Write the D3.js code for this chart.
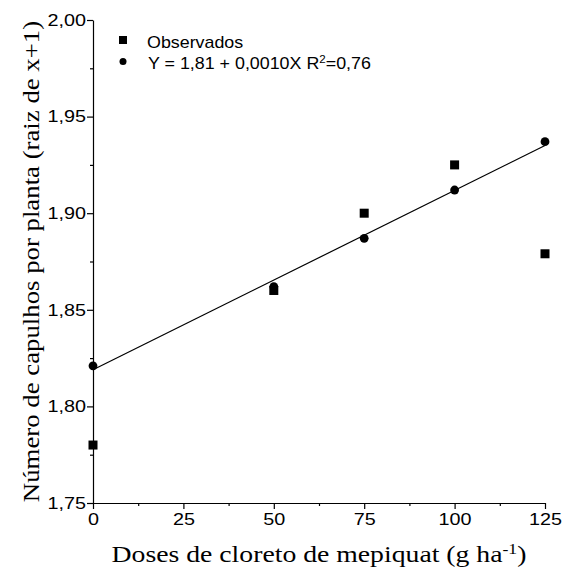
<!DOCTYPE html>
<html>
<head>
<meta charset="utf-8">
<script src="https://cdn.jsdelivr.net/npm/d3@7"></script>
<style>
  body { margin: 0; background: #fff; }
  svg { display: block; }
  .tick text { font-family: "Liberation Sans", Arial, sans-serif; font-size: 16.5px; fill: #000; }
  .title { font-family: "Liberation Serif", "Times New Roman", serif; font-size: 23.5px; fill: #000; }
  .leg { font-family: "Liberation Sans", Arial, sans-serif; font-size: 17px; fill: #000; }
</style>
</head>
<body>
<script>
// doses (g/ha)
var doses = [0, 50, 75, 100, 125];
// observed values
var observados = [1.780, 1.860, 1.900, 1.925, 1.879];
// fitted values
var estimados = [1.821, 1.862, 1.887, 1.912, 1.937];
// regression line ends
var retaX = [0, 125];
var retaY = [1.819, 1.935];

var xTicks = [0, 25, 50, 75, 100, 125];
var yTicks = [1.75, 1.80, 1.85, 1.90, 1.95, 2.00];

var W = 562, H = 569;
var margin = {top: 20, right: 17, bottom: 66, left: 93};
var stretch = 1.2; // the text in the original is wide

var svg = d3.select("body").append("svg")
    .attr("width", W)
    .attr("height", H);

var x = d3.scaleLinear().domain([0, 125]).range([margin.left, W - margin.right]);
var y = d3.scaleLinear().domain([1.75, 2.00]).range([H - margin.bottom, margin.top]);

var fmt = function (d) { return d3.format(".2f")(d).replace(".", ","); };

function widen(sel, s) {
    sel.each(function () {
        var t = d3.select(this);
        var tx = +t.attr("x") || 0;
        t.attr("x", 0).attr("transform", "translate(" + tx + ",0) scale(" + s + ",1)");
    });
}

// minor ticks
svg.append("g")
    .attr("transform", "translate(0," + y(1.75) + ")")
    .call(d3.axisBottom(x).tickValues(d3.range(12.5, 125, 25)).tickSize(3).tickFormat(""))
    .call(g => g.select(".domain").remove());
svg.append("g")
    .attr("transform", "translate(" + x(0) + ",0)")
    .call(d3.axisLeft(y).tickValues(d3.range(1.775, 2.0, 0.05)).tickSize(3).tickFormat(""))
    .call(g => g.select(".domain").remove());

var xAxis = svg.append("g")
    .attr("transform", "translate(0," + y(1.75) + ")")
    .call(d3.axisBottom(x).tickValues(xTicks).tickSize(6).tickSizeOuter(0).tickPadding(4));
xAxis.selectAll("text").attr("dy", "0.74em");
widen(xAxis.selectAll("text"), stretch);

var yAxis = svg.append("g")
    .attr("transform", "translate(" + x(0) + ",0)")
    .call(d3.axisLeft(y).tickValues(yTicks).tickSize(6).tickSizeOuter(0).tickPadding(1).tickFormat(fmt));
widen(yAxis.selectAll("text"), stretch);

svg.selectAll(".domain, .tick line").attr("stroke", "#000").attr("stroke-width", 1.2);

// regression line
var line = d3.line().x(d => x(d[0])).y(d => y(d[1]));
svg.append("path")
    .datum(d3.zip(retaX, retaY))
    .attr("d", line)
    .attr("fill", "none")
    .attr("stroke", "#000")
    .attr("stroke-width", 1.2);

// observed squares
var sq = 9;
svg.selectAll(".obs")
    .data(d3.zip(doses, observados))
    .enter().append("rect")
    .attr("class", "obs")
    .attr("x", d => x(d[0]) - sq / 2)
    .attr("y", d => y(d[1]) - sq / 2)
    .attr("width", sq)
    .attr("height", sq)
    .attr("fill", "#000");

// fitted circles
svg.selectAll(".est")
    .data(d3.zip(doses, estimados))
    .enter().append("circle")
    .attr("class", "est")
    .attr("cx", d => x(d[0]))
    .attr("cy", d => y(d[1]))
    .attr("r", 4.4)
    .attr("fill", "#000");

// legend
var lg = svg.append("g").attr("transform", "translate(123,40)");
lg.append("rect").attr("x", -4).attr("y", -4).attr("width", 8).attr("height", 8).attr("fill", "#000");
lg.append("text").attr("class", "leg")
    .attr("transform", "translate(24,8) scale(1.05,1)").text("Observados");
lg.append("circle").attr("cx", 0).attr("cy", 21.5).attr("r", 3.5).attr("fill", "#000");
var t2 = lg.append("text").attr("class", "leg")
    .attr("transform", "translate(25,29) scale(1.05,1)");
t2.append("tspan").text("Y = 1,81 + 0,0010X R");
t2.append("tspan").attr("dy", -6).attr("font-size", "11px").text("2");
t2.append("tspan").attr("dy", 6).text("=0,76");

// axis titles
var xt = svg.append("text").attr("class", "title")
    .attr("transform", "translate(" + ((x(0) + x(125)) / 2) + ",562) scale(1.18,1)")
    .attr("text-anchor", "middle");
xt.append("tspan").text("Doses de cloreto de mepiquat (g ha");
xt.append("tspan").attr("dy", -8).attr("font-size", "15px").text("-1");
xt.append("tspan").attr("dy", 8).text(")");

svg.append("text").attr("class", "title")
    .attr("transform", "translate(39," + ((y(1.75) + y(2.0)) / 2) + ") rotate(-90) scale(1.14,1)")
    .attr("text-anchor", "middle")
    .text("Número de capulhos por planta (raiz de x+1)");
</script>
</body>
</html>
